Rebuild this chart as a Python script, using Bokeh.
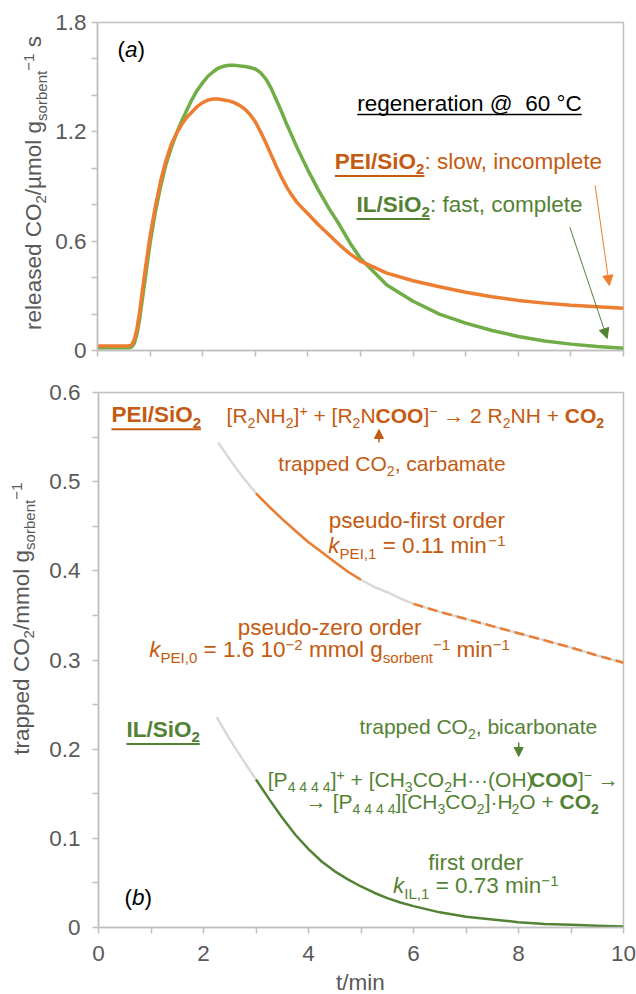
from bokeh.plotting import figure
from bokeh.models import Label, Arrow, NormalHead, FixedTicker, Range1d
from bokeh.layouts import column, row
from bokeh.embed import file_html
from bokeh.resources import INLINE

# ---------------- data ----------------
# (a) released CO2 rate, µmol g^-1 s^-1
t_rel = [0, 0.3, 0.6, 0.65, 0.7, 0.75, 0.8, 0.9, 1.0, 1.1, 1.2, 1.3, 1.4, 1.5, 1.6, 1.7,
         1.8, 1.9, 2.0, 2.1, 2.2, 2.3, 2.4, 2.5, 2.6, 2.7, 2.8, 2.9, 3.0, 3.1, 3.2, 3.3,
         3.4, 3.5, 3.6, 3.7, 3.8, 3.9, 4.0, 4.2, 4.4, 4.6, 4.8, 5.0, 5.5, 6.0, 6.5, 7.0,
         7.5, 8.0, 8.5, 9.0, 9.5, 10.0]
rel_pei = [0.025, 0.025, 0.025, 0.03, 0.06, 0.12, 0.21, 0.43, 0.63, 0.79, 0.93, 1.04, 1.13,
           1.19, 1.24, 1.28, 1.31, 1.34, 1.36, 1.375, 1.38, 1.38, 1.375, 1.37, 1.36, 1.345,
           1.325, 1.295, 1.255, 1.2, 1.14, 1.075, 1.01, 0.95, 0.895, 0.85, 0.81, 0.78, 0.75,
           0.69, 0.635, 0.58, 0.53, 0.49, 0.425, 0.383, 0.35, 0.32, 0.295, 0.275, 0.26,
           0.248, 0.24, 0.232]
rel_il = [0.015, 0.015, 0.015, 0.02, 0.04, 0.09, 0.17, 0.38, 0.59, 0.76, 0.90, 1.02, 1.11,
          1.19, 1.26, 1.32, 1.38, 1.43, 1.47, 1.505, 1.53, 1.55, 1.56, 1.565, 1.565, 1.562,
          1.558, 1.553, 1.545, 1.525, 1.49, 1.44, 1.375, 1.31, 1.24, 1.175, 1.11, 1.05, 0.99,
          0.88, 0.78, 0.69, 0.59, 0.505, 0.36, 0.27, 0.20, 0.15, 0.11, 0.077, 0.052, 0.035,
          0.022, 0.013]

# (b) trapped CO2, mmol g^-1
t_pei = [2.28, 2.5, 2.75, 3.0, 3.25, 3.5, 3.75, 4.0, 4.25, 4.5, 4.75, 5.0, 5.25, 5.5, 5.75,
         6.0, 6.5, 7.0, 7.5, 8.0, 8.5, 9.0, 9.5, 10.0]
v_pei = [0.544, 0.525, 0.505, 0.487, 0.472, 0.458, 0.445, 0.432, 0.421, 0.410, 0.399, 0.390,
         0.382, 0.376, 0.369, 0.363, 0.354, 0.346, 0.338, 0.330, 0.322, 0.314, 0.305, 0.297]
t_il = [2.25, 2.5, 2.75, 3.0, 3.25, 3.5, 3.75, 4.0, 4.25, 4.5, 4.75, 5.0, 5.25, 5.5, 5.75,
        6.0, 6.5, 7.0, 7.5, 8.0, 8.5, 9.0, 9.5, 10.0]
v_il = [0.236, 0.211, 0.188, 0.166, 0.144, 0.123, 0.104, 0.088, 0.074, 0.063, 0.054, 0.046,
        0.039, 0.033, 0.028, 0.024, 0.017, 0.012, 0.009, 0.006, 0.004, 0.003, 0.002, 0.001]

# fit windows
pei_first = (3.0, 5.0)
pei_zero = (6.0, 10.0)
il_first = (3.0, 10.0)

# ticks
x_major = [0, 2, 4, 6, 8, 10]
x_minor = [1, 3, 5, 7, 9]
ya_major = [0, 0.6, 1.2, 1.8]
ya_minor = [0.2, 0.4, 0.8, 1.0, 1.4, 1.6]
yb_major = [0, 0.1, 0.2, 0.3, 0.4, 0.5, 0.6]
yb_minor = [0.05, 0.15, 0.25, 0.35, 0.45, 0.55]

# ---------------- style ----------------
FONT = "Liberation Sans"
FS = 22.5
FS_EQ = 21.0
SUBSCALE = 0.67
SUB_DY = 5.0
SUP_DY = 7.0
BASE_K = 0.35          # label box is centred on its anchor -> shift to baseline
ORANGE_LINE = "#ED7D31"
ORANGE_TEXT = "#C55A11"
GREEN_A = "#70AD47"
GREEN_DARK = "#548235"
GRAY_LINE = "#D9D9D9"
AXIS_GRAY = "#C0C0C0"
TEXT_GRAY = "#595959"

W_REG = {' ': 278, '\u00a0': 278, '!': 278, '(': 333, ')': 333, '+': 584, ',': 278,
         '-': 333, '.': 278, '/': 278, ':': 278, '=': 584, '@': 1015, '[': 278, ']': 278,
         '°': 400, 'µ': 576, '·': 278, '−': 584, '→': 1000,
         'A': 667, 'B': 667, 'C': 722, 'D': 722, 'E': 667, 'F': 611, 'G': 778, 'H': 722,
         'I': 278, 'J': 500, 'K': 667, 'L': 556, 'M': 833, 'N': 722, 'O': 778, 'P': 667,
         'Q': 778, 'R': 722, 'S': 667, 'T': 611, 'U': 722, 'V': 667, 'W': 944, 'X': 667,
         'Y': 667, 'Z': 611,
         'a': 556, 'b': 556, 'c': 500, 'd': 556, 'e': 556, 'f': 278, 'g': 556, 'h': 556,
         'i': 222, 'j': 222, 'k': 500, 'l': 222, 'm': 833, 'n': 556, 'o': 556, 'p': 556,
         'q': 556, 'r': 333, 's': 500, 't': 278, 'u': 556, 'v': 500, 'w': 722, 'x': 500,
         'y': 500, 'z': 500}
W_BOLD = {':': 333, 'A': 722, 'B': 722, 'L': 611, 'b': 611, 'd': 611, 'f': 333, 'g': 611,
          'h': 611, 'i': 278, 'l': 278, 'm': 889, 'n': 611, 'o': 611, 'p': 611, 'r': 389,
          's': 556, 't': 333, 'u': 611, 'c': 556}


def text_w(s, bold, size):
    tot = 0
    for ch in s:
        w = 556 if ch in "0123456789" else W_REG.get(ch, 556)
        if bold:
            w = W_BOLD.get(ch, w)
        tot += w
    return tot * size / 1000.0


def rich(p, x, y, runs, color, align="left", sx=1.0, sy=1.0, angle=0,
         ul_off=6.5, ul_w=2.0, fs=FS):
    items = []
    for txt, fl in runs:
        small = ("_" in fl) or ("^" in fl)
        size = fs * SUBSCALE if small else fs
        dy = -SUB_DY if "_" in fl else (SUP_DY if "^" in fl else 0.0)
        items.append((txt, fl, size, dy, text_w(txt, "b" in fl, size)))
    total = sum(it[4] for it in items)
    pos = {"left": 0.0, "center": -total / 2.0, "right": -total}[align]
    ul_start = None
    ul_end = None
    for txt, fl, size, dy, w in items:
        style = "normal"
        if "b" in fl and "i" in fl:
            style = "bold italic"
        elif "b" in fl:
            style = "bold"
        elif "i" in fl:
            style = "italic"
        stripped = txt.lstrip(" ")
        lead = text_w(txt[:len(txt) - len(stripped)], "b" in fl, size)
        shown = stripped.rstrip(" ")
        raise_px = dy + BASE_K * size
        if shown:
            if angle == 0:
                xo, yo = pos + lead, raise_px
            else:
                xo, yo = -raise_px, pos + lead
            p.add_layout(Label(x=x, y=y, x_offset=xo, y_offset=yo, text=shown,
                               angle=angle, angle_units="deg", text_font=FONT,
                               text_font_size=f"{size:.2f}px", text_font_style=style,
                               text_color=color, text_align="left",
                               text_baseline="alphabetic"))
        if "u" in fl:
            if ul_start is None:
                ul_start = pos
            ul_end = pos + w
        pos += w
    if ul_start is not None and angle == 0:
        p.segment(x0=[x + ul_start / sx], y0=[y - ul_off / sy],
                  x1=[x + ul_end / sx], y1=[y - ul_off / sy],
                  line_color=color, line_width=ul_w)


TOTAL_W = 636
FRAME_LEFT = 97
FRAME_W = 526
BR = 13


def make_fig(lab_w, height, y_end, top, bottom, ymaj, ymin):
    p = figure(width=TOTAL_W - lab_w, height=height, x_range=Range1d(0, 10),
               y_range=Range1d(0, y_end), output_backend="svg", toolbar_location=None,
               min_border_left=FRAME_LEFT - lab_w, min_border_right=BR,
               min_border_top=top, min_border_bottom=bottom)
    p.xgrid.visible = False
    p.ygrid.visible = False
    p.outline_line_color = AXIS_GRAY
    p.outline_line_width = 1.5
    p.xaxis.ticker = FixedTicker(ticks=x_major, minor_ticks=x_minor)
    p.yaxis.ticker = FixedTicker(ticks=ymaj, minor_ticks=ymin)
    for ax in (p.xaxis[0], p.yaxis[0]):
        ax.axis_line_color = AXIS_GRAY
        ax.axis_line_width = 1.5
        ax.major_tick_line_color = AXIS_GRAY
        ax.minor_tick_line_color = AXIS_GRAY
        ax.major_tick_line_width = 1.5
        ax.minor_tick_line_width = 1.5
        ax.major_tick_in = 0
        ax.minor_tick_in = 0
        ax.major_tick_out = 6
        ax.minor_tick_out = 6
        ax.major_label_text_font = FONT
        ax.major_label_text_font_size = f"{FS}px"
        ax.major_label_text_color = TEXT_GRAY
    return p


def make_blank(width, height):
    q = figure(width=width, height=height, x_range=Range1d(0, width), y_range=Range1d(0, height),
               output_backend="svg", toolbar_location=None,
               min_border_left=0, min_border_right=0, min_border_top=0, min_border_bottom=0)
    q.axis.visible = False
    q.xgrid.visible = False
    q.ygrid.visible = False
    q.outline_line_color = None
    return q


# ---------------- panel (a) ----------------
LAB_A = 52
H1_TOP, H1_FRAME, H1_BOT = 22, 328, 20
H1 = H1_TOP + H1_FRAME + H1_BOT
p1 = make_fig(LAB_A, H1, 1.8, H1_TOP, H1_BOT, ya_major, ya_minor)
p1.xaxis.major_label_overrides = {v: "" for v in x_major}
p1.xaxis.major_label_standoff = 0
p1.yaxis.major_label_standoff = 5
p1.yaxis.major_label_overrides = {0: "0"}
sx1 = FRAME_W / 10.0
sy1 = H1_FRAME / 1.8

p1.line(t_rel, rel_il, line_color=GREEN_A, line_width=3.5, line_join="round")
p1.line(t_rel, rel_pei, line_color=ORANGE_LINE, line_width=3.5, line_join="round")

p1.add_layout(Arrow(end=NormalHead(size=10, fill_color=ORANGE_LINE, line_color=ORANGE_LINE),
                    x_start=9.46, y_start=0.906, x_end=9.73, y_end=0.357,
                    line_color=ORANGE_LINE, line_width=1))
p1.add_layout(Arrow(end=NormalHead(size=10, fill_color=GREEN_DARK, line_color=GREEN_DARK),
                    x_start=8.98, y_start=0.676, x_end=9.69, y_end=0.066,
                    line_color=GREEN_DARK, line_width=1))

rich(p1, 0.38, 1.608, [("(", ""), ("a", "i"), (")", "")], "black", "left", sx1, sy1)
rich(p1, 7.072, 1.312, [("regeneration @\u00a0 60 °C", "u")], "black", "center", sx1, sy1,
     ul_off=3.0, ul_w=1.5)
rich(p1, 7.063, 0.993, [("PEI/SiO", "bu"), ("2", "bu_"), (": slow, incomplete", "")],
     ORANGE_TEXT, "center", sx1, sy1)
rich(p1, 7.072, 0.757, [("IL/SiO", "bu"), ("2", "bu_"), (": fast, complete", "")],
     GREEN_DARK, "center", sx1, sy1)

la = make_blank(LAB_A, H1)
rich(la, 41, H1 - 181, [("released CO", ""), ("2", "_"), ("/µmol g", ""), ("sorbent", "_"),
                        ("−1", "^"), (" s", "")], TEXT_GRAY, "center", angle=90)

# ---------------- panel (b) ----------------
LAB_B = 46
H2_TOP, H2_FRAME, H2_BOT = 22, 535, 44
H2 = H2_TOP + H2_FRAME + H2_BOT
p2 = make_fig(LAB_B, H2, 0.6, H2_TOP, H2_BOT, yb_major, yb_minor)
p2.yaxis.major_label_standoff = 12
p2.xaxis.major_label_standoff = 12
sx2 = FRAME_W / 10.0
sy2 = H2_FRAME / 0.6

p2.line(t_pei, v_pei, line_color=GRAY_LINE, line_width=2.5)
t_a = [t for t in t_pei if pei_first[0] <= t <= pei_first[1]]
v_a = [v for t, v in zip(t_pei, v_pei) if pei_first[0] <= t <= pei_first[1]]
p2.line(t_a, v_a, line_color=ORANGE_LINE, line_width=2.5)
t_b = [t for t in t_pei if pei_zero[0] <= t <= pei_zero[1]]
v_b = [v for t, v in zip(t_pei, v_pei) if pei_zero[0] <= t <= pei_zero[1]]
p2.line(t_b, v_b, line_color=ORANGE_LINE, line_width=2.5, line_dash="10 5")

t_g = [t for t in t_il if t <= il_first[0]]
v_g = [v for t, v in zip(t_il, v_il) if t <= il_first[0]]
p2.line(t_g, v_g, line_color=GRAY_LINE, line_width=2.5)
t_c = [t for t in t_il if il_first[0] <= t <= il_first[1]]
v_c = [v for t, v in zip(t_il, v_il) if il_first[0] <= t <= il_first[1]]
p2.line(t_c, v_c, line_color=GREEN_DARK, line_width=2.5, line_join="round")

rich(p2, 0.247, 0.566, [("PEI/SiO", "bu"), ("2", "bu_")], ORANGE_TEXT, "left", sx2, sy2)
rich(p2, 6.036, 0.566,
     [("[R", ""), ("2", "_"), ("NH", ""), ("2", "_"), ("]", ""), ("+", "^"), (" + [R", ""),
      ("2", "_"), ("N", ""), ("COO", "b"), ("]", ""), ("−", "^"), (" → 2 R", ""), ("2", "_"),
      ("NH + ", ""), ("CO", "b"), ("2", "b_")], ORANGE_TEXT, "center", sx2, sy2, fs=FS_EQ)
p2.add_layout(Arrow(end=NormalHead(size=9, fill_color=ORANGE_TEXT, line_color=ORANGE_TEXT),
                    x_start=5.342, y_start=0.5439, x_end=5.342, y_end=0.5585,
                    line_color=ORANGE_TEXT, line_width=1.5))
rich(p2, 5.589, 0.5125, [("trapped CO", ""), ("2", "_"), (", carbamate", "")],
     ORANGE_TEXT, "center", sx2, sy2, fs=FS_EQ)
rich(p2, 6.065, 0.4475, [("pseudo-first order", "")], ORANGE_TEXT, "center", sx2, sy2)
rich(p2, 6.065, 0.4194, [("k", "i"), ("PEI,1", "_"), (" = 0.11 min", ""), ("−1", "^")],
     ORANGE_TEXT, "center", sx2, sy2)
rich(p2, 4.401, 0.3275, [("pseudo-zero order", "")], ORANGE_TEXT, "center", sx2, sy2)
rich(p2, 4.401, 0.3028,
     [("k", "i"), ("PEI,0", "_"), (" = 1.6 10", ""), ("−2", "^"), (" mmol g", ""),
      ("sorbent", "_"), ("−1", "^"), (" min", ""), ("−1", "^")], ORANGE_TEXT, "center", sx2, sy2)

rich(p2, 0.532, 0.2131, [("IL/SiO", "bu"), ("2", "bu_")], GREEN_DARK, "left", sx2, sy2)
rich(p2, 7.234, 0.2176, [("trapped CO", ""), ("2", "_"), (", bicarbonate", "")],
     GREEN_DARK, "center", sx2, sy2, fs=FS_EQ)
p2.add_layout(Arrow(end=NormalHead(size=9, fill_color=GREEN_DARK, line_color=GREEN_DARK),
                    x_start=8.004, y_start=0.2075, x_end=8.004, y_end=0.1918,
                    line_color=GREEN_DARK, line_width=1.5))
rich(p2, 6.568, 0.1581,
     [("[P", ""), ("4 4 4 4", "_"), ("]", ""), ("+", "^"), (" + [CH", ""), ("3", "_"),
      ("CO", ""), ("2", "_"), ("H···(OH)", ""), ("COO", "b"), ("]", ""), ("−", "^"),
      (" →", "")], GREEN_DARK, "center", sx2, sy2, fs=FS_EQ)
rich(p2, 6.740, 0.1335,
     [("→ [P", ""), ("4 4 4 4", "_"), ("][CH", ""), ("3", "_"), ("CO", ""), ("2", "_"),
      ("]·H", ""), ("2", "_"), ("O + ", ""), ("CO", "b"), ("2", "b_")],
     GREEN_DARK, "center", sx2, sy2, fs=FS_EQ)
rich(p2, 7.186, 0.0639, [("first order", "")], GREEN_DARK, "center", sx2, sy2)
rich(p2, 7.186, 0.0381, [("k", "i"), ("IL,1", "_"), (" = 0.73 min", ""), ("−1", "^")],
     GREEN_DARK, "center", sx2, sy2)
rich(p2, 0.494, 0.0247, [("(", ""), ("b", "i"), (")", "")], "black", "left", sx2, sy2)

lb = make_blank(LAB_B, H2)
rich(lb, 29, H2 - (624 - H1), [("trapped CO", ""), ("2", "_"), ("/mmol g", ""),
                               ("sorbent", "_"), ("−1", "^")], TEXT_GRAY, "center", angle=90)

# ---------------- x-axis title strip ----------------
H3 = 994 - H1 - H2
xl = make_blank(TOTAL_W, H3)
rich(xl, FRAME_LEFT + FRAME_W / 2.0, H3 - (990 - H1 - H2), [("t/min", "")], TEXT_GRAY, "center")

layout = column(row(la, p1, spacing=0), row(lb, p2, spacing=0), xl, spacing=0)
open("out.html", "w").write(file_html(layout, INLINE))
